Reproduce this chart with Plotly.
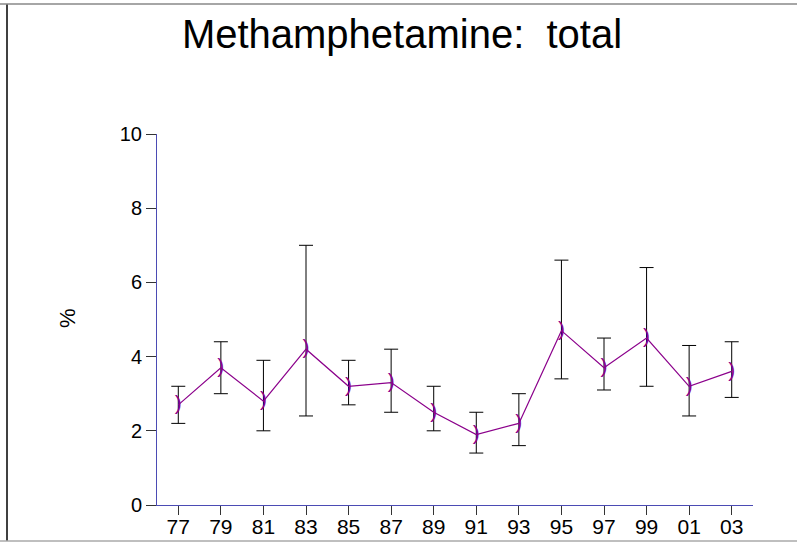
import plotly.graph_objects as go

years = [1977, 1979, 1981, 1983, 1985, 1987, 1989, 1991, 1993, 1995, 1997, 1999, 2001, 2003]
tick_labels = ["77", "79", "81", "83", "85", "87", "89", "91", "93", "95", "97", "99", "01", "03"]
pct = [2.7, 3.7, 2.8, 4.2, 3.2, 3.3, 2.5, 1.9, 2.2, 4.7, 3.7, 4.5, 3.2, 3.6]
upper = [3.2, 4.4, 3.9, 7.0, 3.9, 4.2, 3.2, 2.5, 3.0, 6.6, 4.5, 6.4, 4.3, 4.4]
lower = [2.2, 3.0, 2.0, 2.4, 2.7, 2.5, 2.0, 1.4, 1.6, 3.4, 3.1, 3.2, 2.4, 2.9]

err_plus = [u - v for u, v in zip(upper, pct)]
err_minus = [v - l for v, l in zip(pct, lower)]

FONT = "Liberation Sans, Arial, sans-serif"
L, R, T, B = 157, 753, 134, 505
PW, PH = R - L, B - T


def px(x):
    return (x - L) / PW


def py(y):
    return (B - y) / PH


fig = go.Figure()
fig.add_trace(go.Scatter(
    x=years, y=pct, mode="markers",
    marker=dict(size=1, color="rgba(0,0,0,0)"),
    error_y=dict(type="data", symmetric=False, array=err_plus, arrayminus=err_minus,
                 color="black", thickness=1, width=7),
    showlegend=False, hoverinfo="skip",
))
fig.add_trace(go.Scatter(
    x=years, y=pct, mode="lines+text", text=[")"] * len(years),
    textposition="middle center",
    textfont=dict(family=FONT, size=21, color="#8b008b"),
    line=dict(color="#8b008b", width=1.2),
    showlegend=False,
))

fig.update_layout(
    width=797, height=543,
    margin=dict(l=L, r=797 - R, t=T, b=543 - B, autoexpand=False),
    paper_bgcolor="white", plot_bgcolor="white",
    font=dict(family=FONT, color="black"),
    title=dict(text="Methamphetamine:  total", font=dict(family=FONT, size=40, color="black"),
               x=402 / 797, xref="container", xanchor="center",
               y=1 - 34 / 543, yref="container", yanchor="middle"),
    xaxis=dict(range=[1976, 2004], tickvals=years, ticktext=tick_labels, automargin=False,
               showgrid=False, zeroline=False, showline=True, linecolor="#4b4bb4", linewidth=1,
               ticks="outside", ticklen=9, tickcolor="#333333", tickwidth=1,
               ticklabelstandoff=-6,
               tickfont=dict(family=FONT, size=21, color="black")),
    yaxis=dict(range=[0, 10], tickvals=[0, 2, 4, 6, 8, 10], automargin=False,
               showgrid=False, zeroline=False, showline=True, linecolor="#4b4bb4", linewidth=1,
               ticks="outside", ticklen=10, tickcolor="#333333", tickwidth=1,
               tickfont=dict(family=FONT, size=20, color="black")),
    annotations=[dict(text="%", xref="paper", yref="paper", x=px(67), y=py(318),
                      showarrow=False, textangle=-90, font=dict(family=FONT, size=22, color="black"),
                      xanchor="center", yanchor="middle")],
    shapes=[
        dict(type="line", xref="paper", yref="paper", x0=px(7), x1=px(7),
             y0=py(541), y1=py(4), line=dict(color="black", width=1.5)),
        dict(type="line", xref="paper", yref="paper", x0=px(0), x1=px(797),
             y0=py(4), y1=py(4), line=dict(color="#888888", width=1.5)),
        dict(type="line", xref="paper", yref="paper", x0=px(0), x1=px(797),
             y0=py(541), y1=py(541), line=dict(color="#aaaaaa", width=1.5)),
    ],
)

fig.write_html("out.html", config={"displayModeBar": False},
               post_script="document.body.style.margin='0';")
